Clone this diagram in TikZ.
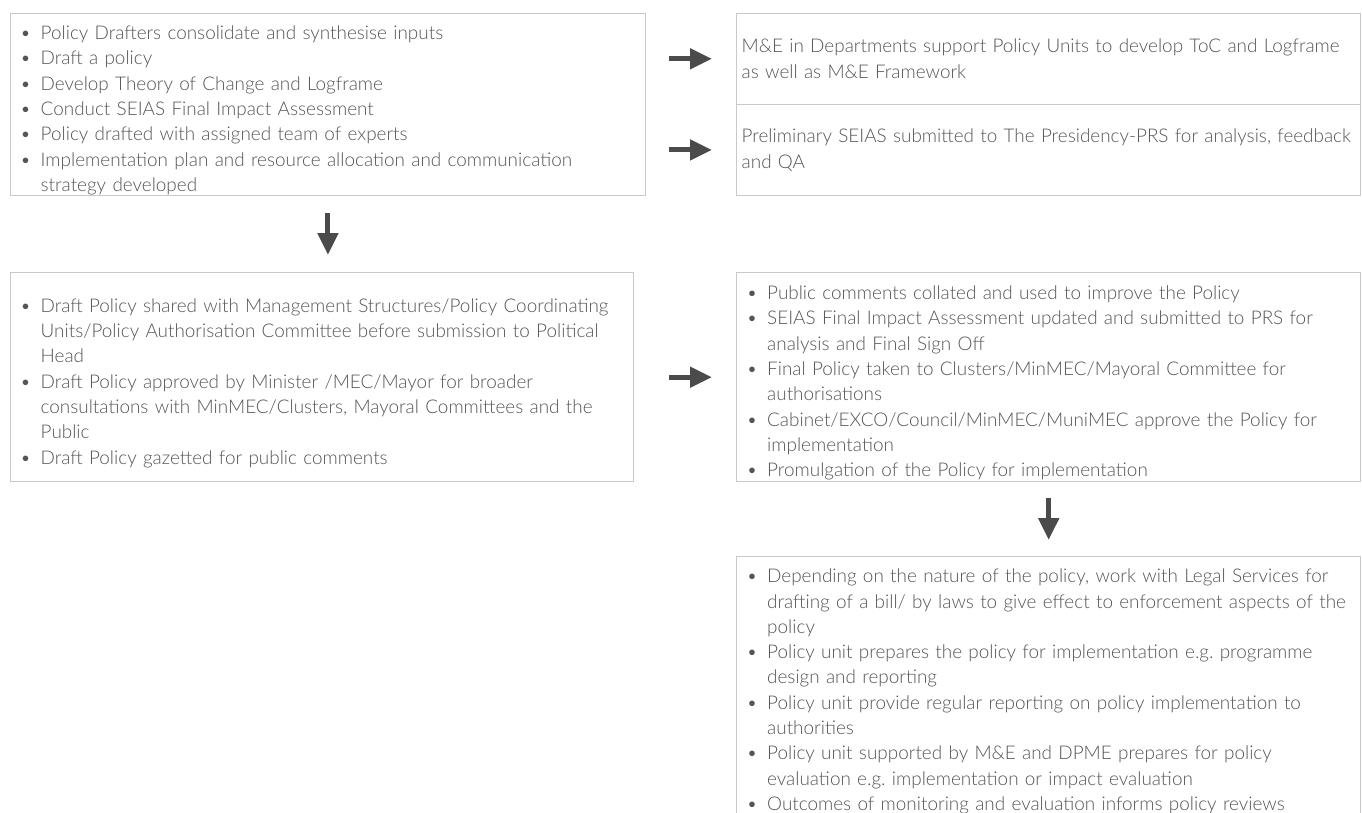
\documentclass[tikz,border=0pt]{standalone}
\usepackage{fontspec}
\setmainfont{Lato Light}
\usepackage{xcolor}
\usetikzlibrary{arrows.meta}
\frenchspacing

\definecolor{boxgrey}{HTML}{C9C9C9}
\definecolor{textgrey}{HTML}{555555}
\definecolor{arrowgrey}{HTML}{4B4B4B}

\newlength{\bulletw}
\setlength{\bulletw}{20.5pt}
\newcommand{\bitem}[1]{\par\hangindent=\bulletw\hangafter=1\noindent
  \makebox[\bulletw][l]{\textbullet}#1\par}

\tikzset{
  stepbox/.style={draw=boxgrey, line width=1.4pt, anchor=north west,
    inner xsep=10pt, inner ysep=0pt, align=left},
  flowarrow/.style={draw=arrowgrey, line width=5pt,
    -{Triangle[length=22pt,width=20pt]}}
}

\begin{document}
\begin{tikzpicture}[x=1pt,y=-1pt,text=textgrey,
    font=\fontsize{18.9}{25.3}\selectfont]
    \useasboundingbox (0,0) rectangle (1362,812);

    % left column
    \node[stepbox, text width=615.5pt, minimum height=182.3pt] (drafting) at (9.5,12.7) {%
        \bitem{Policy Drafters consolidate and synthesise inputs}
        \bitem{Draft a policy}
        \bitem{Develop Theory of Change and Logframe}
        \bitem{Conduct SEIAS Final Impact Assessment}
        \bitem{Policy drafted with assigned team of experts}
        \bitem{Implementation plan and resource allocation and communication\newline strategy developed}};
    \node[stepbox, text width=603.5pt, minimum height=209pt] (sharing) at (9.5,272) {%
        \bitem{Draft Policy shared with Management Structures/Policy Coordinating\newline Units/Policy Authorisation Committee before submission to Political\newline Head}
        \bitem{Draft Policy approved by Minister /MEC/Mayor for broader\newline consultations with MinMEC/Clusters, Mayoral Committees and the\newline Public}
        \bitem{Draft Policy gazetted for public comments}};

    % right column
    \node[stepbox, inner xsep=5pt, text width=614pt, minimum height=90.8pt] (support) at (736,12.7) {%
        M\&E in Departments support Policy Units to develop ToC and Logframe\newline as well as M\&E Framework};
    \node[stepbox, inner xsep=5pt, text width=614pt, minimum height=91.5pt] (preliminary) at (736,103.5) {%
        Preliminary SEIAS submitted to The Presidency-PRS for analysis, feedback\newline and QA};
    \node[stepbox, text width=604pt, minimum height=209pt] (finalising) at (736,272) {%
        \bitem{Public comments collated and used to improve the Policy}
        \bitem{SEIAS Final Impact Assessment updated and submitted to PRS for\newline analysis and Final Sign Off}
        \bitem{Final Policy taken to Clusters/MinMEC/Mayoral Committee for\newline authorisations}
        \bitem{Cabinet/EXCO/Council/MinMEC/MuniMEC approve the Policy for\newline implementation}
        \bitem{Promulgation of the Policy for implementation}};
    \node[stepbox, text width=604pt, minimum height=258pt] (implementing) at (736,556) {%
        \bitem{Depending on the nature of the policy, work with Legal Services for\newline drafting of a bill/ by laws to give effect to enforcement aspects of the\newline policy}
        \bitem{Policy unit prepares the policy for implementation e.g. programme\newline design and reporting}
        \bitem{Policy unit provide regular reporting on policy implementation to\newline authorities}
        \bitem{Policy unit supported by M\&E and DPME prepares for policy\newline evaluation e.g. implementation or impact evaluation}
        \bitem{Outcomes of monitoring and evaluation informs policy reviews}};

    % arrows
    \draw[flowarrow, shorten <=23pt, shorten >=24pt] (drafting.east |- support.west) -- (support.west);
    \draw[flowarrow, shorten <=23pt, shorten >=24pt] (drafting.east |- preliminary.west) -- (preliminary.west);
    \draw[flowarrow, shorten <=35pt, shorten >=24pt] (sharing.east |- finalising.west) -- (finalising.west);
    \draw[flowarrow, shorten <=17pt, shorten >=17pt] (drafting.south) -- (drafting.south |- sharing.north);
    \draw[flowarrow, shorten <=16pt, shorten >=16pt] (finalising.south) -- (finalising.south |- implementing.north);
\end{tikzpicture}
\end{document}
